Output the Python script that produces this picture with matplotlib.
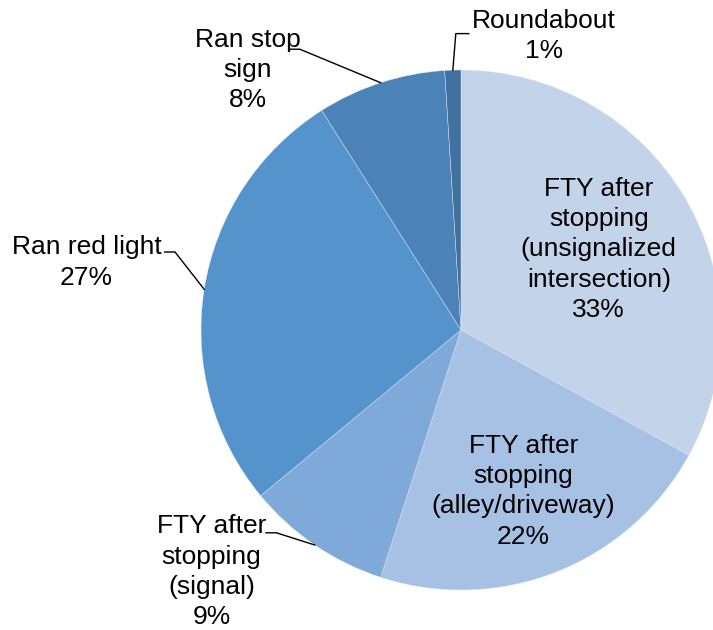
import matplotlib.pyplot as plt
import numpy as np

labels = ['FTY after\nstopping\n(unsignalized\nintersection)', 'FTY after\nstopping\n(alley/driveway)',
          'FTY after\nstopping\n(signal)', 'Ran red light', 'Ran stop\nsign', 'Roundabout']
shares = [33, 22, 9, 27, 8, 1]
colors = ['#c3d3ea', '#a7c1e4', '#7ea9d9', '#5593cc', '#4b83b9', '#41719f']

# label centres (data units, pie radius = 1) and elbow of the leader line
text_pos = [(0.53, 0.31), (0.24, -0.62), (-0.96, -0.93), (-1.44, 0.26), (-0.82, 1.0), (0.32, 1.13)]
elbow = [None, None, (-0.71, -0.78), (-1.10, 0.30), (-0.62, 1.08), (-0.02, 1.14)]
elbow_end = [None, None, (-0.75, -0.78), (-1.14, 0.30), (-0.66, 1.08), (0.03, 1.14)]

plt.rcParams['font.family'] = ['Liberation Sans', 'DejaVu Sans']

fig = plt.figure(figsize=(7.13, 6.3), dpi=100)
cx, cy, r = 461, 330, 260
ax = fig.add_axes([(cx - r) / 713, (630 - cy - r) / 630, 2 * r / 713, 2 * r / 630])
wedges, _ = ax.pie(shares, colors=colors, startangle=90, counterclock=False, radius=1,
                   wedgeprops=dict(linewidth=0.3, edgecolor='#dfe8f4'))
ax.set_xlim(-1, 1)
ax.set_ylim(-1, 1)
ax.set_aspect('auto')
ax.axis('off')

total = sum(shares)
start = 90
for i, (lab, s) in enumerate(zip(labels, shares)):
    sweep = 360 * s / total
    mid = np.deg2rad(start - sweep / 2)
    start -= sweep
    tx, ty = text_pos[i]
    ax.text(tx, ty, f'{lab}\n{s}%', ha='center', va='center', fontsize=19,
            linespacing=1.33, clip_on=False)
    if elbow[i] is not None:
        ax_, ay_ = np.cos(mid), np.sin(mid)
        ex, ey = elbow[i]
        fx, fy = elbow_end[i]
        ax.plot([ax_, ex, fx], [ay_, ey, fy], color='black', lw=1.0, clip_on=False)

fig.savefig('out.png', dpi=100)
